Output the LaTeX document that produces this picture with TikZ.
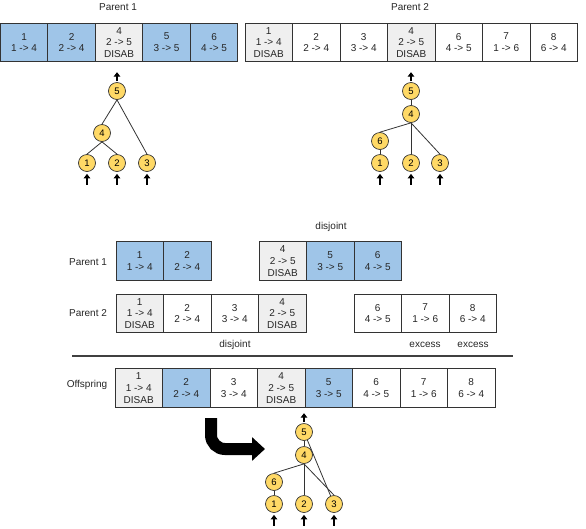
\documentclass[tikz,border=0pt]{standalone}
\usepackage{fontspec}
\setmainfont{Liberation Sans}
\usetikzlibrary{arrows.meta, positioning, calc}
\definecolor{GeneBlue}{HTML}{9FC5E8}
\definecolor{GeneGray}{HTML}{EFEFEF}
\definecolor{NodeGold}{HTML}{FFD966}
\definecolor{CLine}{HTML}{333333}

\begin{document}
\begin{tikzpicture}[x=1pt, y=-1pt,
    gene/.style={draw=CLine, line width=0.8pt, minimum width=47.5pt, minimum height=38.5pt,
        inner sep=0pt, align=center, text=black!85, font=\fontsize{10pt}{11.8pt}\selectfont},
    lbl/.style={font=\fontsize{10pt}{12pt}\selectfont, text=black!85},
    gnode/.style={circle, draw=CLine, line width=0.7pt, fill=NodeGold, minimum size=17pt,
        inner sep=0pt, font=\fontsize{9.5pt}{10pt}\selectfont},
    link/.style={CLine, line width=0.8pt},
    pin/.style={line width=1.8pt, -{Triangle[length=4.5pt, width=6.5pt]}}]
    \useasboundingbox (0,0) rectangle (586,528);

    % --- Parent 1 (top) ---
    \node[lbl] (tP1) at (118,7) {Parent 1};
    \foreach \txt/\col [count=\k] in {1\\1 -> 4/GeneBlue, 2\\2 -> 4/GeneBlue,
        4\\2 -> 5\\DISAB/GeneGray, 5\\3 -> 5/GeneBlue, 6\\4 -> 5/GeneBlue}
        \node[gene, fill=\col] (tA\k) at ({0.3+(\k-0.5)*47.5}, 42.5) {\txt};

    % --- Parent 2 (top) ---
    \node[lbl] (tP2) at (410,7) {Parent 2};
    \foreach \txt/\col [count=\k] in {1\\1 -> 4\\DISAB/GeneGray, 2\\2 -> 4/white,
        3\\3 -> 4/white, 4\\2 -> 5\\DISAB/GeneGray, 6\\4 -> 5/white,
        7\\1 -> 6/white, 8\\6 -> 4/white}
        \node[gene, fill=\col] (tB\k) at ({245+(\k-0.5)*47.5}, 42.5) {\txt};

    % Network of parent 1
    \node[gnode] (a5) at (117,91) {5};
    \node[gnode] (a4) at (102,133) {4};
    \node[gnode] (a1) at (87,163) {1};
    \node[gnode] (a2) at (117,163) {2};
    \node[gnode] (a3) at (147,163) {3};
    \draw[link] (a5.south) -- (a4.north);
    \draw[link] (a5.south) -- (a3.north);
    \draw[link] (a4.south) -- (a1.north);
    \draw[link] (a4.south) -- (a2.north);

    % Network of parent 2
    \node[gnode] (b5) at (411,91) {5};
    \node[gnode] (b4) at (411,114) {4};
    \node[gnode] (b6) at (380,141) {6};
    \node[gnode] (b1) at (380,163) {1};
    \node[gnode] (b2) at (411,163) {2};
    \node[gnode] (b3) at (440,163) {3};
    \draw[link] (b5) -- (b4);
    \draw[link] (b4.south) -- (b6.north);
    \draw[link] (b6) -- (b1);
    \draw[link] (b4.south) -- (b2.north);
    \draw[link] (b4.south) -- (b3.north);

    % --- Aligned genes ---
    \node[lbl] (mP1) at (88,262) {Parent 1};
    \node[lbl] (mP2) at (88,313) {Parent 2};
    \foreach \txt/\col [count=\k] in {1\\1 -> 4/GeneBlue, 2\\2 -> 4/GeneBlue}
        \node[gene, fill=\col] (mA\k) at ({116+(\k-0.5)*47.5}, 261) {\txt};
    \foreach \txt/\col [count=\k] in {4\\2 -> 5\\DISAB/GeneGray, 5\\3 -> 5/GeneBlue,
        6\\4 -> 5/GeneBlue}
        \node[gene, fill=\col] (mC\k) at ({259+(\k-0.5)*47.5}, 261) {\txt};
    \foreach \txt/\col [count=\k] in {1\\1 -> 4\\DISAB/GeneGray, 2\\2 -> 4/white,
        3\\3 -> 4/white, 4\\2 -> 5\\DISAB/GeneGray}
        \node[gene, fill=\col] (mB\k) at ({116+(\k-0.5)*47.5}, 313.5) {\txt};
    \foreach \txt/\col [count=\k] in {6\\4 -> 5/white, 7\\1 -> 6/white, 8\\6 -> 4/white}
        \node[gene, fill=\col] (mD\k) at ({354+(\k-0.5)*47.5}, 313.5) {\txt};
    \node[lbl] (dj1) at (331,227) {disjoint};
    \node[lbl] (dj2) at (235,345) {disjoint};
    \node[lbl] (ex1) at (425,345) {excess};
    \node[lbl] (ex2) at (473,345) {excess};

    \draw[black!75, line width=1.2pt] (72,356) -- (513,356);

    % --- Offspring ---
    \node[lbl] (oLbl) at (87,385) {Offspring};
    \foreach \txt/\col [count=\k] in {1\\1 -> 4\\DISAB/GeneGray, 2\\2 -> 4/GeneBlue,
        3\\3 -> 4/white, 4\\2 -> 5\\DISAB/GeneGray, 5\\3 -> 5/GeneBlue,
        6\\4 -> 5/white, 7\\1 -> 6/white, 8\\6 -> 4/white}
        \node[gene, fill=\col] (oG\k) at ({115+(\k-0.5)*47.5}, 388) {\txt};

    % Big turn arrow
    \draw[line width=12pt, rounded corners=14pt, -{Triangle[length=13pt, width=23pt]}]
        (211,418) -- (211,449) -- (265,449);

    % Network of offspring
    \node[gnode] (c5) at (304,432) {5};
    \node[gnode] (c4) at (304,455) {4};
    \node[gnode] (c6) at (274,482) {6};
    \node[gnode] (c1) at (274,504) {1};
    \node[gnode] (c2) at (304,504) {2};
    \node[gnode] (c3) at (334,504) {3};
    \draw[link] (c5) -- (c4);
    \draw[link] (c4.south) -- (c6.north);
    \draw[link] (c6) -- (c1);
    \draw[link] (c4.south) -- (c2.north);
    \draw[link] (c4.south) -- (c3.north);
    \draw[link] (c5) -- (c3);

    % Input and output pins
    \foreach \n in {a5,b5,c5}
        \draw[pin] ([yshift=1pt]\n.north) -- ([yshift=10pt]\n.north);
    \foreach \n in {a1,a2,a3,b1,b2,b3,c1,c2,c3}
        \draw[pin] ([yshift=-13pt]\n.south) -- ([yshift=-2pt]\n.south);
\end{tikzpicture}
\end{document}
